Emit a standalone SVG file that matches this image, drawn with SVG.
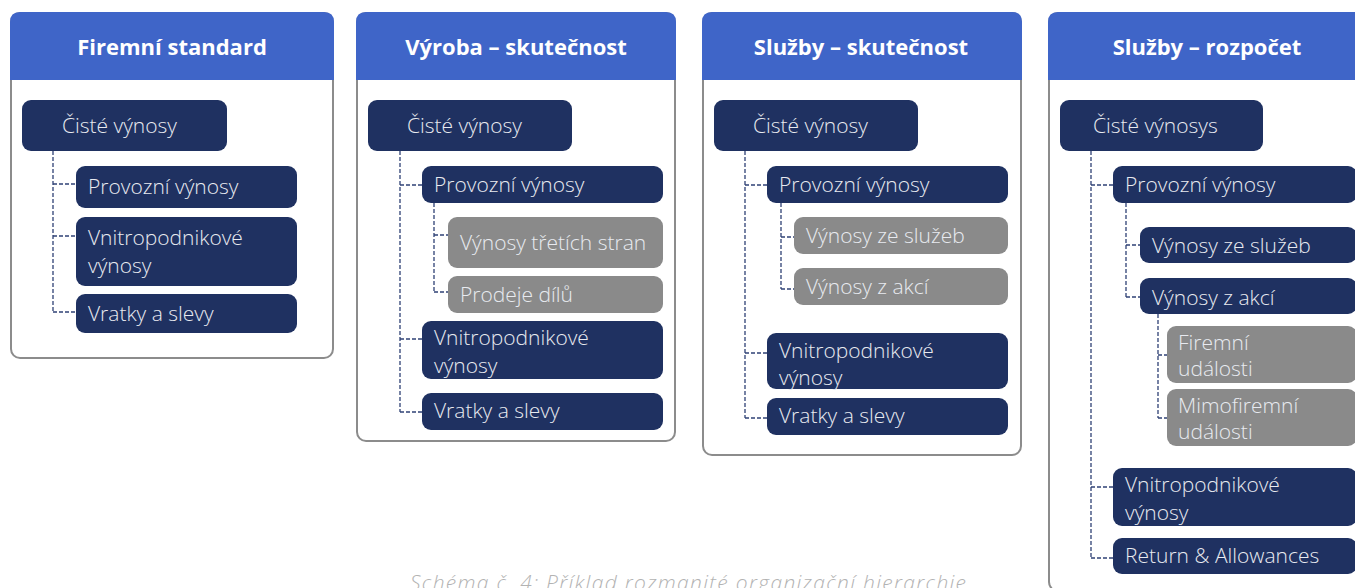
<svg xmlns="http://www.w3.org/2000/svg" width="1355" height="588" viewBox="0 0 1355 588">
<style>
.panel{fill:#fff;stroke:#8c8c8c;stroke-width:2}
.hdr{fill:#3f65c8}
.n{fill:#1f3161}
.g{fill:#8a8a8a}
.t{font-family:"Open Sans","Liberation Sans",sans-serif;font-weight:300;font-size:21px;fill:#e8eaf0}
.h{font-family:"Open Sans","Liberation Sans",sans-serif;font-weight:700;font-size:22px;fill:#fff;text-anchor:middle}
.c{stroke:#2f4175;stroke-width:1.3;stroke-dasharray:4 2;fill:none}
.cap{font-family:"Open Sans","Liberation Sans",sans-serif;font-weight:300;font-style:italic;font-size:21px;fill:#b3b3b3}
</style>
<rect width="1355" height="588" fill="#fff"/>

<g id="panel1">
<rect class="panel" x="11" y="13" width="322" height="345" rx="9"/>
<path class="hdr" d="M10,80 V22 Q10,12 20,12 H324 Q334,12 334,22 V80 Z"/>
<text class="h" x="172" y="55">Firemní standard</text>
</g>
<g id="panel2">
<rect class="panel" x="357" y="13" width="318" height="428" rx="9"/>
<path class="hdr" d="M356,80 V22 Q356,12 366,12 H666 Q676,12 676,22 V80 Z"/>
<text class="h" x="516" y="55">Výroba – skutečnost</text>
</g>
<g id="panel3">
<rect class="panel" x="703" y="13" width="318" height="442" rx="9"/>
<path class="hdr" d="M702,80 V22 Q702,12 712,12 H1012 Q1022,12 1022,22 V80 Z"/>
<text class="h" x="861" y="55">Služby – skutečnost</text>
</g>
<g id="panel4">
<rect class="panel" x="1049" y="13" width="320" height="578" rx="9"/>
<path class="hdr" d="M1048,80 V22 Q1048,12 1058,12 H1360 Q1370,12 1370,22 V80 Z"/>
<text class="h" x="1207" y="55">Služby – rozpočet</text>
</g>

<g id="connectors">
<path class="c" d="M53,151 V312 M53,184 H76 M53,236 H76 M53,312 H76"/>
<path class="c" d="M400,151 V412 M400,185 H422 M400,339 H422 M400,412 H422 M434,203 V292 M434,235 H448 M434,292 H448"/>
<path class="c" d="M745,151 V418 M745,185 H767 M745,353 H767 M745,418 H767 M781,203 V289 M781,237 H794 M781,289 H794"/>
<path class="c" d="M1091,151 V558 M1091,185 H1113 M1091,487 H1113 M1091,558 H1113 M1126,203 V297 M1126,245 H1140 M1126,297 H1140 M1158,314 V418 M1158,355 H1167 M1158,418 H1167"/>
</g>

<g id="p1-net"><rect class="n" x="22" y="100" width="205" height="51" rx="9"/><text class="t" x="62" y="133">Čisté výnosy</text></g>
<g id="p1-prov"><rect class="n" x="76" y="166" width="221" height="42" rx="9"/><text class="t" x="88" y="194">Provozní výnosy</text></g>
<g id="p1-vnitro"><rect class="n" x="76" y="217" width="221" height="69" rx="9"/><text class="t" x="88" y="245">Vnitropodnikové</text><text class="t" x="88" y="273">výnosy</text></g>
<g id="p1-vratky"><rect class="n" x="76" y="294" width="221" height="39" rx="9"/><text class="t" x="88" y="321">Vratky a slevy</text></g>

<g id="p2-net"><rect class="n" x="368" y="100" width="204" height="51" rx="9"/><text class="t" x="407" y="133">Čisté výnosy</text></g>
<g id="p2-prov"><rect class="n" x="422" y="166" width="241" height="37" rx="9"/><text class="t" x="434" y="192">Provozní výnosy</text></g>
<g id="p2-tret"><rect class="g" x="448" y="217" width="215" height="51" rx="9"/><text class="t" x="460" y="250">Výnosy třetích stran</text></g>
<g id="p2-dil"><rect class="g" x="448" y="276" width="215" height="37" rx="9"/><text class="t" x="460" y="302">Prodeje dílů</text></g>
<g id="p2-vnitro"><rect class="n" x="422" y="321" width="241" height="58" rx="9"/><text class="t" x="434" y="345">Vnitropodnikové</text><text class="t" x="434" y="373">výnosy</text></g>
<g id="p2-vratky"><rect class="n" x="422" y="393" width="241" height="37" rx="9"/><text class="t" x="434" y="418">Vratky a slevy</text></g>

<g id="p3-net"><rect class="n" x="714" y="100" width="204" height="51" rx="9"/><text class="t" x="753" y="133">Čisté výnosy</text></g>
<g id="p3-prov"><rect class="n" x="767" y="166" width="241" height="37" rx="9"/><text class="t" x="779" y="192">Provozní výnosy</text></g>
<g id="p3-sluz"><rect class="g" x="794" y="217" width="214" height="37" rx="9"/><text class="t" x="806" y="243">Výnosy ze služeb</text></g>
<g id="p3-akci"><rect class="g" x="794" y="268" width="214" height="37" rx="9"/><text class="t" x="806" y="294">Výnosy z akcí</text></g>
<g id="p3-vnitro"><rect class="n" x="767" y="333" width="241" height="56" rx="9"/><text class="t" x="779" y="358">Vnitropodnikové</text><text class="t" x="779" y="385">výnosy</text></g>
<g id="p3-vratky"><rect class="n" x="767" y="398" width="241" height="37" rx="9"/><text class="t" x="779" y="423">Vratky a slevy</text></g>

<g id="p4-net"><rect class="n" x="1060" y="100" width="203" height="51" rx="9"/><text class="t" x="1093" y="133">Čisté výnosys</text></g>
<g id="p4-prov"><rect class="n" x="1113" y="166" width="244" height="37" rx="9"/><text class="t" x="1125" y="192">Provozní výnosy</text></g>
<g id="p4-sluz"><rect class="n" x="1140" y="227" width="217" height="36" rx="9"/><text class="t" x="1152" y="253">Výnosy ze služeb</text></g>
<g id="p4-akci"><rect class="n" x="1140" y="278" width="217" height="36" rx="9"/><text class="t" x="1152" y="305">Výnosy z akcí</text></g>
<g id="p4-firem"><rect class="g" x="1167" y="326" width="190" height="57" rx="9"/><text class="t" x="1178" y="350">Firemní</text><text class="t" x="1178" y="376">události</text></g>
<g id="p4-mimo"><rect class="g" x="1167" y="389" width="190" height="57" rx="9"/><text class="t" x="1178" y="413">Mimofiremní</text><text class="t" x="1178" y="439">události</text></g>
<g id="p4-vnitro"><rect class="n" x="1113" y="468" width="244" height="58" rx="9"/><text class="t" x="1125" y="492">Vnitropodnikové</text><text class="t" x="1125" y="520">výnosy</text></g>
<g id="p4-return"><rect class="n" x="1113" y="538" width="244" height="36" rx="9"/><text class="t" x="1125" y="563">Return &amp; Allowances</text></g>

<text class="cap" x="410" y="590" textLength="556" lengthAdjust="spacing">Schéma č. 4: Příklad rozmanité organizační hierarchie</text>
</svg>
